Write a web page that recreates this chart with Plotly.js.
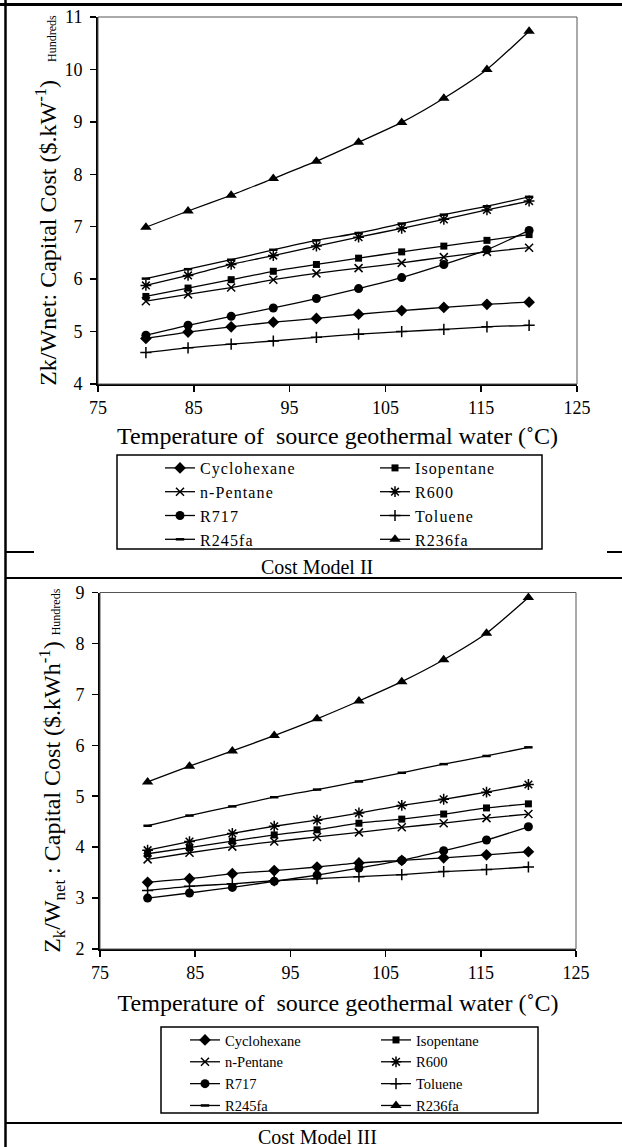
<!DOCTYPE html>
<html>
<head>
<meta charset="utf-8">
<script src="https://cdn.plot.ly/plotly-3.0.1.min.js"></script>
<style>
  html, body { margin: 0; padding: 0; background: #ffffff; }
  #chart { width: 622px; height: 1147px; }
  #chart svg text { font-family: 'Liberation Serif', 'Times New Roman', serif !important; }
  #chart g.legend text.legendtext { letter-spacing: 1.1px; }
  #chart g.legend2 text.legendtext { letter-spacing: 2.4px; }
</style>
</head>
<body>
<div id="chart"></div>
<script>
// ---------- data ----------
const temperature = [80, 84.4, 88.9, 93.3, 97.8, 102.2, 106.7, 111.1, 115.6, 120];
const fluids = ["Cyclohexane", "Isopentane", "n-Pentane", "R600", "R717", "Toluene", "R245fa", "R236fa"];
const xTickVals = [75, 85, 95, 105, 115, 125];

// Cost Model II (hundreds of $ per kW)
const m2_Cyclohexane = [4.87, 4.99, 5.09, 5.18, 5.25, 5.33, 5.40, 5.46, 5.52, 5.56];
const m2_Isopentane  = [5.67, 5.83, 5.99, 6.15, 6.28, 6.40, 6.52, 6.63, 6.74, 6.85];
const m2_nPentane    = [5.58, 5.71, 5.84, 5.99, 6.11, 6.21, 6.31, 6.42, 6.52, 6.60];
const m2_R600        = [5.88, 6.07, 6.28, 6.45, 6.63, 6.80, 6.97, 7.14, 7.32, 7.49];
const m2_R717        = [4.93, 5.12, 5.29, 5.45, 5.63, 5.82, 6.03, 6.28, 6.56, 6.93];
const m2_Toluene     = [4.60, 4.69, 4.76, 4.82, 4.89, 4.95, 5.00, 5.04, 5.09, 5.12];
const m2_R245fa      = [6.01, 6.19, 6.37, 6.56, 6.74, 6.88, 7.06, 7.23, 7.39, 7.57];
const m2_R236fa      = [6.99, 7.30, 7.60, 7.92, 8.25, 8.61, 8.99, 9.45, 10.00, 10.73];

// Cost Model III (hundreds of $ per kWh)
const m3_Cyclohexane = [3.31, 3.38, 3.48, 3.54, 3.61, 3.69, 3.74, 3.79, 3.85, 3.91];
const m3_Isopentane  = [3.87, 3.99, 4.12, 4.24, 4.34, 4.47, 4.55, 4.65, 4.77, 4.85];
const m3_nPentane    = [3.76, 3.89, 4.01, 4.11, 4.20, 4.29, 4.39, 4.47, 4.57, 4.65];
const m3_R600        = [3.94, 4.11, 4.27, 4.41, 4.53, 4.67, 4.82, 4.94, 5.08, 5.23];
const m3_R717        = [3.00, 3.10, 3.21, 3.33, 3.45, 3.59, 3.74, 3.93, 4.14, 4.40];
const m3_Toluene     = [3.15, 3.23, 3.28, 3.34, 3.38, 3.42, 3.46, 3.52, 3.56, 3.61];
const m3_R245fa      = [4.42, 4.62, 4.80, 4.98, 5.13, 5.29, 5.46, 5.63, 5.79, 5.96];
const m3_R236fa      = [5.28, 5.59, 5.89, 6.19, 6.52, 6.87, 7.25, 7.68, 8.20, 8.90];

const model2 = [m2_Cyclohexane, m2_Isopentane, m2_nPentane, m2_R600, m2_R717, m2_Toluene, m2_R245fa, m2_R236fa];
const model3 = [m3_Cyclohexane, m3_Isopentane, m3_nPentane, m3_R600, m3_R717, m3_Toluene, m3_R245fa, m3_R236fa];

// ---------- styles ----------
const FONT = "Liberation Serif";
const markerStyles = [
  {symbol: "diamond", size: 9},
  {symbol: "square", size: 7},
  {symbol: "x-thin-open", size: 8, line: {width: 1.5, color: "#000"}},
  {symbol: "asterisk-open", size: 9, line: {width: 1.5, color: "#000"}},
  {symbol: "circle", size: 9},
  {symbol: "cross-thin-open", size: 8, line: {width: 1.5, color: "#000"}},
  {symbol: "line-ew-open", size: 6, line: {width: 2.5, color: "#222"}},
  {symbol: "triangle-up", size: 10}
];

const W = 622, H = 1147, ML = 40, MR = 40;
const GW = W - ML - MR;
const px = v => (v - ML) / GW;   // pixel x -> paper x
const py = v => 1 - v / H;       // pixel y -> paper y

const traces = [];
function addModel(values, xa, ya, legendId) {
  fluids.forEach((name, i) => {
    const m = Object.assign({color: "#000"}, markerStyles[i]);
    traces.push({
      type: "scatter", mode: "lines+markers",
      x: temperature, y: values[i], name: name,
      xaxis: xa, yaxis: ya, legend: legendId,
      line: {color: "#000", width: 1.3, shape: "spline", smoothing: 0.6},
      marker: m, cliponaxis: false
    });
  });
}
addModel(model2, "x", "y", "legend");
addModel(model3, "x2", "y2", "legend2");

function axisBase() {
  return {
    showgrid: false, zeroline: false, showline: true, linecolor: "#000", linewidth: 2,
    ticks: "outside", ticklen: 6, tickwidth: 1.5, tickcolor: "#000",
    tickfont: {family: FONT, size: 18, color: "#000"}
  };
}
const xTitle = "Temperature of\u00a0 source geothermal water (\u02daC)";
const titleFont = () => ({family: FONT, size: 24, color: "#000"});

const layout = {
  width: W, height: H,
  margin: {l: ML, r: MR, t: 0, b: 0},
  paper_bgcolor: "#fff", plot_bgcolor: "#fff",
  font: {family: FONT, color: "#000", size: 17},
  showlegend: true,
  xaxis: Object.assign(axisBase(), {
    domain: [px(98), px(577)], range: [75, 125], tickvals: xTickVals, anchor: "y",
    title: {text: xTitle, font: titleFont(), standoff: 11}
  }),
  yaxis: Object.assign(axisBase(), {
    domain: [py(384), py(17)], range: [4, 11], dtick: 1, anchor: "x",
    ticklabelstandoff: 4,
    title: {text: "Zk/Wnet: Capital Cost ($.kW<sup>-1</sup>)\u00a0\u00a0\u00a0<span style='font-size:12px'>Hundreds</span>",
            font: titleFont(), standoff: 1}
  }),
  xaxis2: Object.assign(axisBase(), {
    domain: [px(100), px(576)], range: [75, 125], tickvals: xTickVals, anchor: "y2",
    title: {text: xTitle, font: titleFont(), standoff: 13}
  }),
  yaxis2: Object.assign(axisBase(), {
    domain: [py(949), py(592.5)], range: [2, 9], dtick: 1, anchor: "x2",
    ticklabelstandoff: 4,
    title: {text: "Z<sub>k</sub>/W<sub>net</sub> : Capital Cost ($.kWh<sup>-1</sup>)\u00a0<span style='font-size:12px'>Hundreds</span>",
            font: titleFont(), standoff: 8}
  }),
  legend: {
    x: px(160), y: py(451), xanchor: "left", yanchor: "top",
    orientation: "h", entrywidth: 170, bgcolor: "rgba(0,0,0,0)", borderwidth: 0,
    font: {family: FONT, size: 16, color: "#000"}, traceorder: "normal"
  },
  legend2: {
    x: px(185), y: py(1024), xanchor: "left", yanchor: "top",
    orientation: "h", entrywidth: 146, bgcolor: "rgba(0,0,0,0)", borderwidth: 0,
    font: {family: FONT, size: 14.5, color: "#000"}, traceorder: "normal"
  },
  shapes: [
    // frame of the table
    {type: "line", xref: "paper", yref: "paper", x0: px(0), x1: px(622), y0: py(4.5), y1: py(4.5), line: {color: "#000", width: 3}},
    {type: "line", xref: "paper", yref: "paper", x0: px(5.5), x1: px(5.5), y0: py(0), y1: py(1147), line: {color: "#000", width: 2.5}},
    {type: "line", xref: "paper", yref: "paper", x0: px(5), x1: px(34), y0: py(552), y1: py(552), line: {color: "#000", width: 2}},
    {type: "line", xref: "paper", yref: "paper", x0: px(607), x1: px(622), y0: py(552), y1: py(552), line: {color: "#000", width: 2}},
    {type: "line", xref: "paper", yref: "paper", x0: px(5), x1: px(622), y0: py(578), y1: py(578), line: {color: "#000", width: 2}},
    {type: "line", xref: "paper", yref: "paper", x0: px(5), x1: px(622), y0: py(1123), y1: py(1123), line: {color: "#000", width: 2}},
    // plot area borders
    {type: "rect", xref: "x domain", yref: "y domain", x0: 0, x1: 1, y0: 0, y1: 1, line: {color: "#555", width: 1}},
    {type: "rect", xref: "x2 domain", yref: "y2 domain", x0: 0, x1: 1, y0: 0, y1: 1, line: {color: "#555", width: 1}},
    // legend frames
    {type: "rect", xref: "paper", yref: "paper", x0: px(117), x1: px(542), y0: py(455), y1: py(549), line: {color: "#000", width: 1.5}},
    {type: "rect", xref: "paper", yref: "paper", x0: px(161), x1: px(538), y0: py(1027), y1: py(1113), line: {color: "#000", width: 1.5}}
  ],
  annotations: [
    {text: "Cost Model II", xref: "paper", yref: "paper", x: px(317), y: py(567), xanchor: "center", yanchor: "middle",
     showarrow: false, font: {family: FONT, size: 20, color: "#000"}},
    {text: "Cost Model III", xref: "paper", yref: "paper", x: px(317), y: py(1137), xanchor: "center", yanchor: "middle",
     showarrow: false, font: {family: FONT, size: 20, color: "#000"}}
  ]
};

Plotly.newPlot("chart", traces, layout, {staticPlot: true, displayModeBar: false});
</script>
</body>
</html>
